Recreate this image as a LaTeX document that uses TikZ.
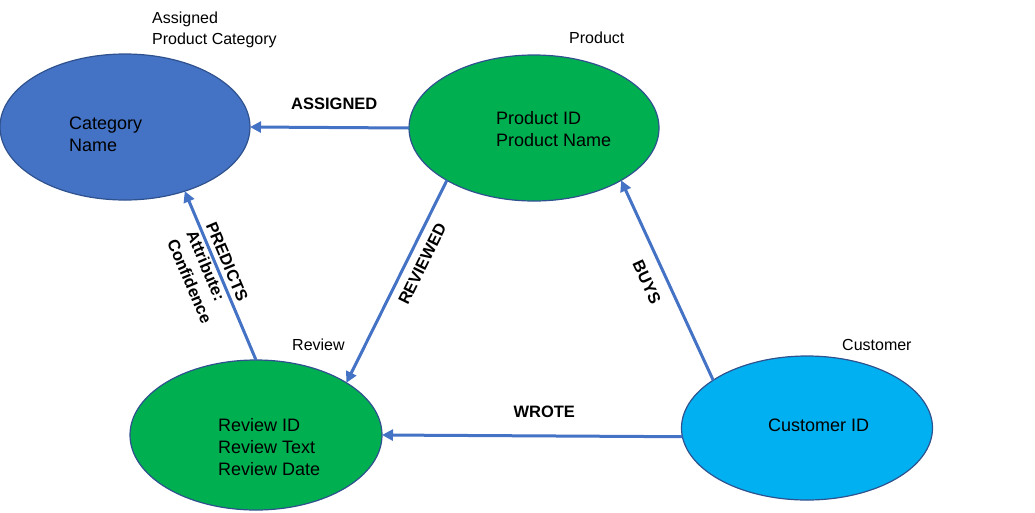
\documentclass[tikz,border=0pt]{standalone}
\usepackage{fontspec}
\setmainfont{Liberation Sans}
\usetikzlibrary{shapes.geometric,arrows.meta}
% cores no estilo do Office
\definecolor{azulCategoria}{HTML}{4472C4}
\definecolor{azulBorda}{HTML}{2F528F}
\definecolor{verdeNo}{HTML}{00B050}
\definecolor{cianoNo}{HTML}{00B0F0}
\definecolor{azulSeta}{HTML}{4472C4}
\begin{document}
\begin{tikzpicture}[x=1pt,y=-1pt]
%============================================================
%  Estilos dos nós e arcos
%============================================================
\tikzset{
    % ---  Define arcos ------
    >={Triangle[length=11pt,width=11pt]},
    arco/.style={ %
            ->,            % seta no final
            line width=3pt,% linha grossa
            azulSeta       % cor da seta
        },
    % ---  Define entidades ------
    entidade/.style={ %
            ellipse,       % formato eliptico
            draw=azulBorda,% contorno azul escuro
            line width=1.2pt,
            minimum width=250pt,
            minimum height=146pt,
            inner sep=0pt,
            outer sep=0pt
        },
    atributos/.style={ %
            anchor=west,
            align=left,
            inner sep=0pt,
            font=\fontsize{18}{22}\selectfont
        },
    titulo/.style={ %
            align=left,
            inner sep=0pt,
            font=\fontsize{16}{21}\selectfont
        },
    rotulo/.style={ %
            inner sep=1pt,
            text=black,    % texto preto, nao azul
            font=\bfseries\fontsize{16.5}{21}\selectfont
        },
}
\useasboundingbox (0,0) rectangle (1035,512);

   % entidades (elipses)
   \node[entidade,fill=azulCategoria] (cat) at (125,127) {};
   \node[entidade,fill=verdeNo] (prod) at (534,128) {};
   \node[entidade,fill=verdeNo,minimum width=252pt,minimum height=150pt] (rev) at (256,435) {};
   \node[entidade,fill=cianoNo,minimum width=251pt,minimum height=144pt] (cust) at (807,428) {};

   % atributos dentro das elipses
   \node[atributos] (catTxt) at (69,134) {Category\\Name};
   \node[atributos] (prodTxt) at (496,129) {Product ID\\Product Name};
   \node[atributos] (revTxt) at (218,447) {Review ID\\Review Text\\Review Date};
   \node[atributos] (custTxt) at (768,425) {Customer ID};

   % titulos das entidades
   \node[titulo,anchor=north west] (catTit) at (152,12) {Assigned\\Product Category};
   \node[titulo,anchor=west] (prodTit) at (569,38) {Product};
   \node[titulo,anchor=west] (revTit) at (292,345) {Review};
   \node[titulo,anchor=west] (custTit) at (842,345) {Customer};

   % arcos com os rotulos
   \draw[arco] (prod.west) -- node[rotulo,pos=0.47,above=15pt] (lblAssigned) {ASSIGNED} (cat.east);
   \draw[arco] (prod.211) -- node[rotulo,pos=0.38,sloped,below=7pt] (lblReviewed) {REVIEWED} (rev.30);
   \draw[arco] (cust.153) -- node[rotulo,pos=0.53,sloped,below=11pt] (lblBuys) {BUYS} (prod.-31);
   \draw[arco] (cust.184) -- node[rotulo,pos=0.46,above=16pt] (lblWrote) {WROTE} (rev.east);
   \draw[arco] (rev.north) -- (cat.-47);
   \node[rotulo,rotate=-67,align=left] (lblPredicts) at (209,273) {PREDICTS\\Attribute:\\Confidence};
\end{tikzpicture}
\end{document}
